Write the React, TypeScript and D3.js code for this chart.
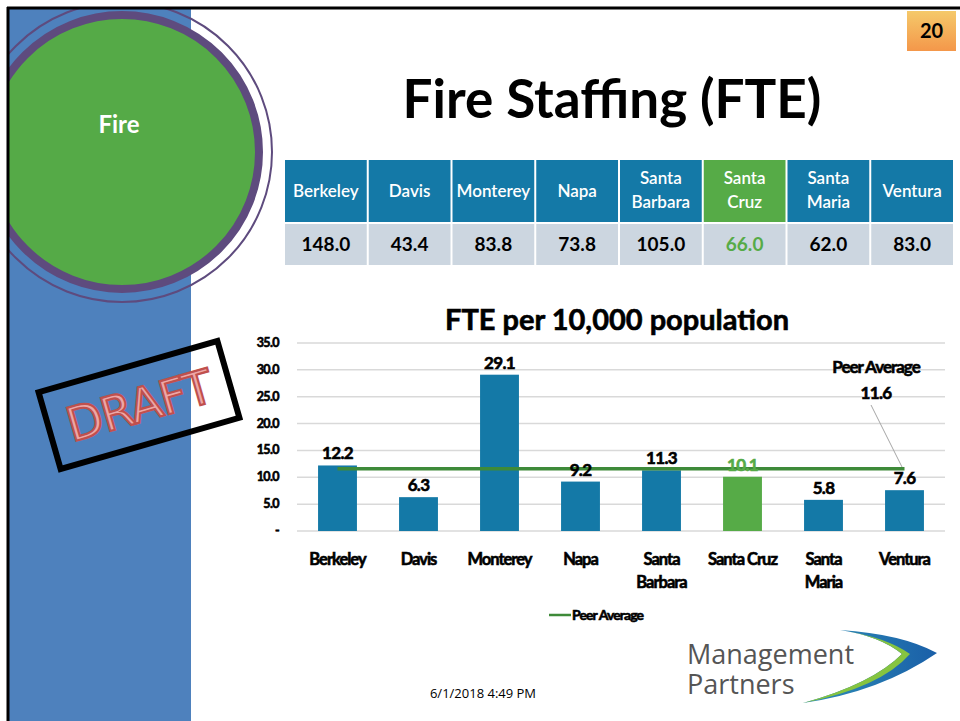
import React from "react";
import * as d3 from "d3";

const cities = ["Berkeley", "Davis", "Monterey", "Napa", "Santa Barbara", "Santa Cruz", "Santa Maria", "Ventura"];
const headerLines = [["Berkeley"], ["Davis"], ["Monterey"], ["Napa"], ["Santa", "Barbara"], ["Santa", "Cruz"], ["Santa", "Maria"], ["Ventura"]];
const axisLines = [["Berkeley"], ["Davis"], ["Monterey"], ["Napa"], ["Santa", "Barbara"], ["Santa Cruz"], ["Santa", "Maria"], ["Ventura"]];
const fteValues = ["148.0", "43.4", "83.8", "73.8", "105.0", "66.0", "62.0", "83.0"];
const perPopulation = [12.2, 6.3, 29.1, 9.2, 11.3, 10.1, 5.8, 7.6];
const peerAverage = 11.6;
const highlight = "Santa Cruz";
const yTicks = [0, 5, 10, 15, 20, 25, 30, 35];

const FONT = "Lato, 'Open Sans', sans-serif";
const BLUE = "#1479A7";
const GREEN = "#56AB47";

export default function App() {
  const x = d3.scaleBand<string>().domain(cities).range([297, 945]).paddingInner(0.52).paddingOuter(0.26);
  const y = d3.scaleLinear().domain([0, 35]).range([531, 343]);
  const tableX = d3.scaleBand<string>().domain(cities).range([284, 954]);
  const avgLine = d3.line<[number, number]>()([
    [x(cities[0])! + x.bandwidth() / 2, y(peerAverage)],
    [x(cities[cities.length - 1])! + x.bandwidth() / 2, y(peerAverage)],
  ]);
  const heavy = (c: string) => ({ stroke: c, strokeWidth: 0.6 });

  return (
    <svg width={960} height={721} style={{ position: "absolute", left: 0, top: 0, background: "#fff" }} fontFamily={FONT}>
      <defs>
        <linearGradient id="pg" x1="0" y1="0" x2="0" y2="1">
          <stop offset="0" stopColor="#F5C96A" />
          <stop offset="1" stopColor="#F4974A" />
        </linearGradient>
        <linearGradient id="sw" x1="0" y1="0" x2="1" y2="0">
          <stop offset="0" stopColor="#2E8FB8" />
          <stop offset="1" stopColor="#1A5FA8" />
        </linearGradient>
        <clipPath id="slide">
          <rect x={9} y={9} width={951} height={712} />
        </clipPath>
      </defs>
      {/* left band */}
      <rect x={9} y={9} width={182} height={712} fill="#4E81BD" />
      <g clipPath="url(#slide)">
        <circle cx={122} cy={152} r={150} fill="none" stroke="#5E4B7E" strokeWidth={2} />
        <circle cx={122} cy={152} r={137} fill="#55AA47" stroke="#5E4B7E" strokeWidth={8} />
      </g>
      <text x={119} y={133} textAnchor="middle" fill="#fff" fontSize={24} fontWeight={700}>Fire</text>
      {/* slide border */}
      <line x1={7} y1={8} x2={960} y2={8} stroke="#000" strokeWidth={3} />
      <line x1={8} y1={7} x2={8} y2={721} stroke="#000" strokeWidth={3} />
      {/* page number */}
      <rect x={907} y={11} width={49} height={40} fill="url(#pg)" />
      <text x={931.5} y={38} textAnchor="middle" fontSize={20} fontWeight={700} fill="#000">20</text>
      {/* title */}
      <text x={612} y={118} textAnchor="middle" fontSize={53} fontWeight={700} fill="#000">Fire Staffing (FTE)</text>

      {/* table */}
      {cities.map((c, i) => {
        const cx = tableX(c)! + tableX.bandwidth() / 2;
        const isH = c === highlight;
        const lines = headerLines[i];
        return (
          <g key={c}>
            <rect x={tableX(c)! + 1} y={160} width={tableX.bandwidth() - 2} height={62} fill={isH ? GREEN : BLUE} />
            <rect x={tableX(c)! + 1} y={224} width={tableX.bandwidth() - 2} height={41} fill="#CCD6E0" />
            {lines.map((l, j) => (
              <text key={j} x={cx} y={lines.length === 1 ? 197 : 184 + j * 24} textAnchor="middle" fill="#fff" fontSize={17} fontWeight={600}>{l}</text>
            ))}
            <text x={cx} y={251} textAnchor="middle" fill={isH ? GREEN : "#000"} fontSize={19} fontWeight={700}>{fteValues[i]}</text>
          </g>
        );
      })}

      {/* chart title */}
      <text x={617} y={330} textAnchor="middle" fontSize={29} fontWeight={700} fill="#000" {...heavy("#000")}>FTE per 10,000 population</text>
      {/* grid */}
      {yTicks.map((t) => (
        <g key={t}>
          <line x1={297} x2={945} y1={y(t)} y2={y(t)} stroke="#D9D9D9" strokeWidth={1.5} />
          <text x={279} y={y(t) + 4} textAnchor="end" fontSize={12.5} fontWeight={700} fill="#000" letterSpacing={-0.6} {...heavy("#000")}>{t === 0 ? "-" : d3.format(".1f")(t)}</text>
        </g>
      ))}
      {/* bars */}
      {cities.map((c, i) => (
        <rect key={c} x={x(c)} y={y(perPopulation[i])} width={x.bandwidth()} height={y(0) - y(perPopulation[i])} fill={c === highlight ? GREEN : BLUE} />
      ))}
      {/* average line */}
      <path d={avgLine!} stroke="#3E8A39" strokeWidth={3.5} fill="none" />
      {/* data labels */}
      {cities.map((c, i) => (
        <text key={c} x={x(c)! + x.bandwidth() / 2} y={y(perPopulation[i]) - 6} textAnchor="middle" fontSize={17} fontWeight={700} fill={c === highlight ? GREEN : "#000"} letterSpacing={-0.7} {...heavy(c === highlight ? GREEN : "#000")}>
          {d3.format(".1f")(perPopulation[i])}
        </text>
      ))}
      {/* peer average annotation */}
      <text x={876} y={373} textAnchor="middle" fontSize={17} fontWeight={700} fill="#000" letterSpacing={-1} {...heavy("#000")}>Peer Average</text>
      <text x={876} y={399} textAnchor="middle" fontSize={17} fontWeight={700} fill="#000" letterSpacing={-0.7} {...heavy("#000")}>{d3.format(".1f")(peerAverage)}</text>
      <line x1={871} y1={405} x2={902} y2={467} stroke="#A6A6A6" strokeWidth={1} />
      {/* x labels */}
      {cities.map((c, i) => (
        <g key={c}>
          {axisLines[i].map((l, j) => (
            <text key={j} x={x(c)! + x.bandwidth() / 2} y={565 + j * 23} textAnchor="middle" fontSize={16.5} fontWeight={700} fill="#000" letterSpacing={-1} {...heavy("#000")}>{l}</text>
          ))}
        </g>
      ))}
      {/* legend */}
      <line x1={549} x2={571} y1={615} y2={615} stroke="#3E8A39" strokeWidth={2.5} />
      <text x={572} y={620} fontSize={14} fontWeight={700} fill="#000" letterSpacing={-0.9} {...heavy("#000")}>Peer Average</text>

      {/* DRAFT stamp */}
      <g transform="translate(139,405) rotate(-16)">
        <rect x={-93} y={-40} width={186} height={80} fill="none" stroke="#000" strokeWidth={6} />
        <text x={0} y={17} textAnchor="middle" fontSize={47} fontFamily="'DejaVu Sans', sans-serif" fill="#EDA7A7" stroke="#C0504D" strokeWidth={2.2} letterSpacing={-1}>DRAFT</text>
      </g>

      {/* date */}
      <text x={483} y={698} textAnchor="middle" fontSize={13} fontFamily="'Open Sans', sans-serif" fill="#000">6/1/2018 4:49 PM</text>

      {/* logo */}
      <path d="M 840 630 Q 902 634 937 653 Q 880 692 803 703 Q 872 684 902 654 Q 880 636 840 630 Z" fill="url(#sw)" />
      <path d="M 840 630 Q 880 636 902 654 Q 872 684 803 703 Q 880 688 910 654 Q 886 637 840 630 Z" fill="#86C440" />
      <text x={687} y={664} fontSize={27} fontFamily="'Open Sans', sans-serif" fill="#555">Management</text>
      <text x={687} y={694} fontSize={27} fontFamily="'Open Sans', sans-serif" fill="#555">Partners</text>
    </svg>
  );
}
